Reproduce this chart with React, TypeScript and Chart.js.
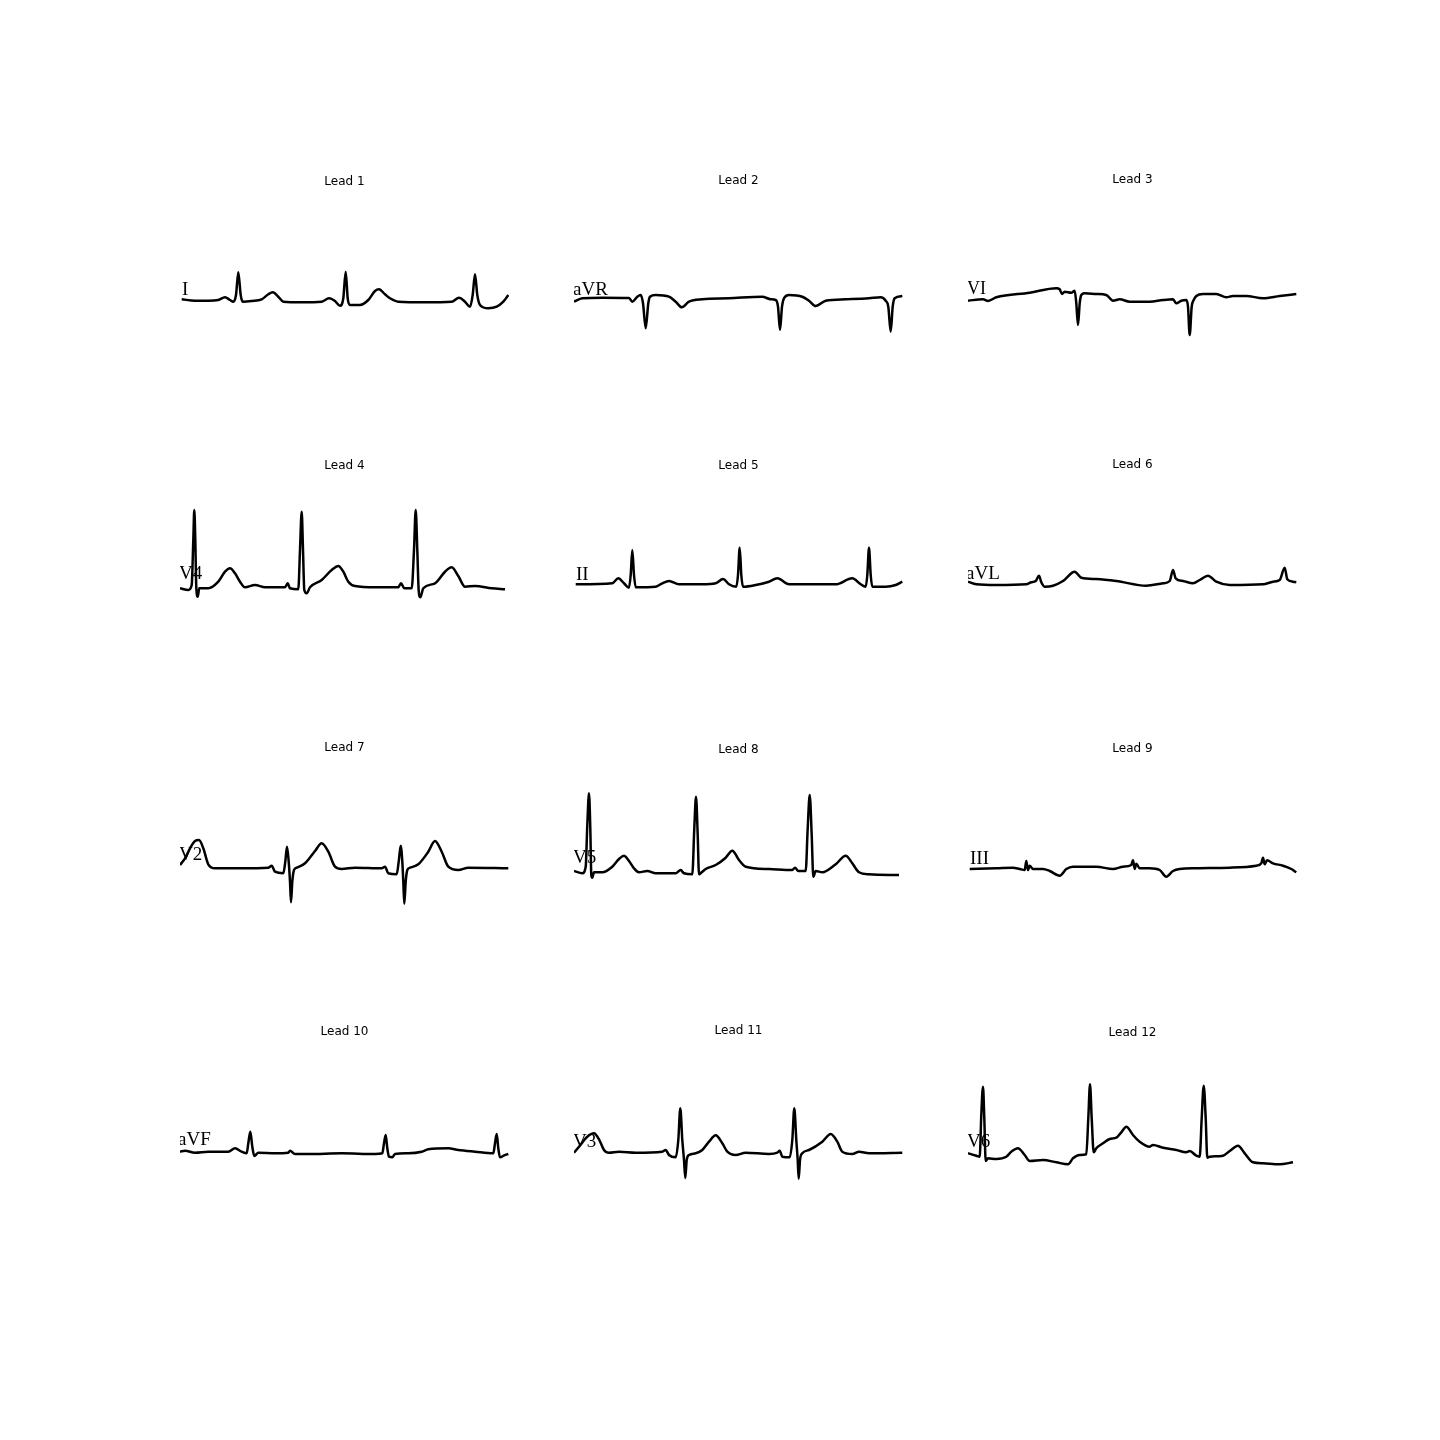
import { useEffect, useRef } from "react";
import { Chart, registerables } from "chart.js";

Chart.register(...registerables);

// ---------- data (x: sample position along strip, y: amplitude) ----------
const leadTitles = ["Lead 1", "Lead 2", "Lead 3", "Lead 4", "Lead 5", "Lead 6", "Lead 7", "Lead 8", "Lead 9", "Lead 10", "Lead 11", "Lead 12"];
const leadNames = ["I", "aVR", "VI", "V4", "II", "aVL", "V2", "V5", "III", "aVF", "V3", "V6"];

const lead1: [number, number][] = [
  [1.7, 0.7], [15, -0.7], [28.3, -0.7], [38.3, 0], [45, 2.7], [50, 0], [53.3, -1.7], [56, 5], [58.3, 27.7], [60.7, 5], [62.7, -1.7],
  [71.7, -1], [81.7, 0.7], [88.3, 5.7], [92.7, 7.7], [98.3, 3.3], [103.3, -1.7], [121.7, -2.3], [141.7, -1.7], [149, 1.7], [155, -1],
  [160, -5.7], [163.3, 1.7], [165.7, 28.3], [167.7, 1.7], [170, -5], [180, -5], [188.3, 0], [195, 9], [199, 10.7], [205, 5.7], [210, 1.7],
  [218.3, -1.7], [245, -2.3], [271.7, -1.7], [279, 2.3], [285, -1.7], [290, -6.7], [292.7, 5], [295, 25.7], [297.3, 5], [300, -5],
  [308.3, -8.3], [316.7, -6.7], [323.3, -1.7], [328.3, 5],
];
const lead2: [number, number][] = [
  [0, -3.7], [8.3, -0.3], [28.3, 0.3], [55, 0], [58.3, -3.7], [63.3, 1.3], [66.7, 3], [69, -5.3], [71.7, -30.3], [74.3, -5.3], [76, 1.3],
  [81.7, 3], [95, 1.3], [101.7, -3.7], [107.7, -9.3], [115, -3.7], [128.3, -1.3], [155, -0.3], [188.3, 1.3], [196.7, -1.3], [201.7, -2],
  [204, -8.7], [206, -32], [208, -8.7], [210, -0.3], [215, 3], [228.3, 1.3], [235, -2.7], [241.7, -8], [251.7, -2.7], [271.7, -1.3],
  [295, -0.3], [306.7, 0.7], [311.7, -2.7], [314.3, -8.7], [316.7, -33.7], [318.7, -8.7], [320.7, -0.3], [328.3, 2],
];
const lead3: [number, number][] = [
  [0, -0.7], [15, 0.7], [20, -1], [28.3, 2.7], [61.7, 7.3], [88.3, 11.7], [91.7, 10.7], [94, 6], [96.7, 8.3], [103.3, 7.3], [106.7, 9.3],
  [108.3, -3.3], [110, -25], [111.7, -3.3], [113.3, 5], [116.7, 6.7], [128.3, 6], [138.3, 5], [145, -0.7], [151.7, 0.7], [161.7, -1.7],
  [181.7, -1.7], [195, 0], [205, 0.7], [208.3, -3.3], [213.3, -0.7], [218.3, 0], [220, -6.7], [221.7, -35], [223.7, -6.7], [225.7, 0],
  [228.3, 4], [235, 6], [248.3, 6], [258.3, 2.7], [265, 4], [278.3, 4], [295, 1.7], [311.7, 4], [328.3, 6],
];
const lead4: [number, number][] = [
  [0, -1.3], [8.3, -3], [11.7, 2], [13.3, 47], [14.3, 77], [15.3, 47], [16.3, -0.3], [17.7, -9.7], [19.3, -1.3], [28.3, -1.3], [38.3, 5.3],
  [45, 15.3], [50, 18.7], [55, 13.7], [60, 5.3], [65, -0.3], [75, 2], [85, -0.3], [105, -0.3], [107.7, 3.7], [110, -1.3], [118.3, -2.3],
  [120, 37], [121.7, 75.3], [123, 37], [124.3, -3], [126.7, -6.3], [130, -0.3], [141.7, 7], [151.7, 17], [158.3, 21], [163.3, 15.3],
  [168.3, 5.3], [175, 1], [195, -0.3], [218.3, -0.3], [221, 3.7], [224.3, -1.3], [231.7, -1.3], [234, 37], [235.7, 77], [237.3, 37],
  [238.7, -3.7], [240.3, -10.3], [243.3, -1.3], [255, 3.7], [265, 15.3], [271.7, 19.7], [278.3, 11], [285, 0.3], [295, 1], [311.7, -1.3],
  [325, -2.3],
];
const lead5: [number, number][] = [
  [1.7, -0.3], [38.3, 0.7], [44.3, 5.7], [50, 0.7], [55, -3.7], [56.7, 9], [58.3, 34], [60, 9], [61.7, -3.3], [81.7, -2.7], [88.3, 0.7],
  [95, 3], [105, -0.3], [128.3, -0.3], [141.7, 0.7], [149, 5], [155, -0.3], [162.3, -2.7], [164, 9], [165.7, 36.3], [167.3, 9], [169, -2.7],
  [181.7, -1], [195, 2.3], [203.3, 5.7], [215, -0.3], [261.7, -0.3], [278.3, 5.7], [286.7, -0.3], [291.7, -2.7], [293.3, 9], [295, 36.3],
  [296.7, 9], [298.3, -2.7], [311.7, -2.7], [321.7, -1], [328.3, 2.3],
];
const lead6: [number, number][] = [
  [0, 1.3], [8.3, -1.3], [28.3, -2], [58.3, -1.3], [63.3, 0.7], [67.7, 2], [71, 7.3], [73.3, 0.7], [76.7, -3.7], [85, -2.7], [95, 2],
  [106.7, 11.3], [113.3, 5.3], [128.3, 4], [148.3, 2], [178.3, -2.7], [195, -0.3], [201.7, 2], [205, 13], [207.7, 4.7], [215, 2],
  [225, -0.3], [231.7, 3], [240, 7.3], [248.3, 1.3], [261.7, -2], [295, -1.3], [305, 1.3], [311.7, 3], [316.7, 15.3], [319.3, 3.7],
  [325, 1.3], [328.3, 0.7],
];
const lead7: [number, number][] = [
  [0, 3], [5, 9.7], [10, 19.7], [15, 27], [19, 28], [23.3, 19.7], [28.3, 3.7], [35, -0.3], [61.7, -0.3], [88.3, 0.3], [91.7, 2.3],
  [95, -3.7], [103.3, -5.3], [105.3, 6.3], [107, 21.3], [108.7, 6.3], [110, -13.7], [111, -34.3], [112.3, -13.7], [114, -2], [116.7, 0.3],
  [125, 4.7], [135, 17], [141.7, 24.7], [148.3, 16.3], [155, 1.3], [161.7, -1], [175, 0.3], [201.7, -0.3], [205, 1.3], [208.3, -5.3],
  [216.7, -6.3], [218.7, 6.3], [220.7, 22.3], [222.3, 6.3], [223.3, -13.7], [224.3, -35.7], [225.7, -13.7], [227.3, -2], [230, 0.3],
  [238.3, 3.7], [248.3, 16.3], [255, 27], [261.7, 16.3], [268.3, 1.3], [278.3, -2], [288.3, 0.3], [328.3, -0.3],
];
const lead8: [number, number][] = [
  [0, 1], [8.3, -1.3], [11.7, 5.3], [13.3, 47], [15, 78.7], [16.3, 43.7], [17.3, -3], [18.3, -5.7], [20, -0.3], [28.3, -0.3], [38.3, 5.3],
  [45, 13], [50, 16.3], [55, 11], [60, 3.7], [65, -0.3], [73.3, 1], [81.7, -1.3], [101.7, -1.3], [106.7, 2], [110, -1.3], [118.3, -2.3],
  [120.3, 43.7], [122, 75.3], [123.7, 37], [125, -2.3], [127.7, -0.3], [131.7, 3], [141.7, 7], [151.7, 14.3], [158.3, 21.3], [165, 12],
  [171.7, 5.3], [195, 3], [218.3, 2], [221, 4.3], [224.3, 1], [231.7, 1], [233.7, 43.7], [235.7, 77], [237.7, 37], [239.3, -4.7],
  [241.7, 1], [248.3, -0.3], [261.7, 7.7], [271.7, 16.3], [278.3, 8.7], [285, -0.3], [295, -2.3], [325, -3],
];
const lead9: [number, number][] = [
  [1.7, -1], [28.3, -0.3], [45, 0.3], [51.7, -1], [56.7, -2], [58.3, 7], [60, -2], [61.7, 2.3], [65, -1], [75, -1], [81.7, -3],
  [91.7, -7.7], [98.3, -1], [105, 1.3], [128.3, 1.3], [145, -1], [155, 1.3], [163.3, 3], [165, 7.7], [166.7, -1], [168.3, 4.3],
  [171.7, -0.3], [181.7, -0.3], [191.7, -2], [198.3, -8.7], [205, -3], [211.7, -1], [228.3, -0.3], [261.7, 0.3], [288.3, 2.3],
  [293.3, 4.7], [295, 10.3], [296.7, 3.7], [299, 7.7], [305, 4.7], [315, 2.3], [323.3, -1], [328.3, -4.3],
];
const lead10: [number, number][] = [
  [0, 0.3], [5, 1.3], [15, -0.7], [28.3, 0.3], [48.3, 0.3], [55, 3.7], [61.7, 0.3], [66.7, -1.3], [68.3, 8.7], [70.3, 20.3], [72.3, 5.3],
  [74.3, -4], [78.3, -0.7], [95, -1.3], [108.3, -0.7], [110, 1.3], [115, -2], [128.3, -2], [161.7, -1.3], [195, -2], [202.3, -1.3],
  [204, 8.7], [205.7, 17], [207.3, 3.7], [209, -4.7], [212.3, -5.3], [215, -2], [228.3, -1.3], [241.7, 0.3], [248.3, 2.7], [268.3, 3.7],
  [278.3, 2], [295, 0.3], [313.3, -1.3], [315, 8.7], [316.7, 18], [318.3, 3.7], [320, -5.3], [324.3, -3.3], [328.3, -2],
];
const lead11: [number, number][] = [
  [0, -0.7], [5, 5.3], [13.3, 15.3], [20, 18.7], [25, 12.7], [30, 2], [35, -0.7], [45, 0.3], [61.7, -0.7], [88.3, 0.3], [91.7, 2],
  [95, -3], [101.7, -5.3], [104.3, 12], [106.3, 43.7], [108.3, 12], [110, -8], [111.3, -26], [112.7, -8], [115, -3], [121.7, -1.3],
  [128.3, 2], [135, 10.3], [141.7, 16.7], [148.3, 8.7], [153.3, 0.3], [161.7, -3], [171.7, -0.7], [195, -2], [203.3, -0.7], [205.7, 1.3],
  [208.3, -4.7], [215.7, -5.3], [218.3, 12], [220.3, 43.7], [222.3, 12], [223.7, -8], [224.7, -26.7], [226, -8], [228.3, -1.3], [235, 2],
  [248.3, 10.3], [256.7, 18], [263.3, 10.3], [268.3, 0.3], [278.3, -2], [285, 0.3], [295, -1.3], [328.3, -0.7],
];
const lead12: [number, number][] = [
  [0, 4.7], [8.3, 2.3], [11.7, 1.3], [13.3, 43], [15, 71.3], [16.3, 39.7], [17.7, -3], [20, -0.3], [28.3, -1], [38.3, 1.3], [43.3, 6.3],
  [50, 9.7], [56.7, 3], [61.7, -3], [75, -2], [88.3, -4.3], [100, -6.3], [105, -0.3], [111.7, 3], [118.3, 3.7], [120.3, 39.7], [122, 73.7],
  [123.7, 39.7], [125.7, 5.7], [128.3, 9.7], [135, 14.7], [141.7, 19], [148.3, 20.3], [153.3, 25.7], [158.3, 31.3], [165, 23],
  [171.7, 16.3], [181.7, 11.3], [185, 13], [195, 10.3], [208.3, 8], [218.3, 5.7], [221.7, 7], [228.3, 2.3], [231.7, 1.3], [233.7, 39.7],
  [235.7, 72.3], [237.7, 39.7], [239.3, 0.3], [241.7, 1.3], [255, 2.3], [261.7, 7], [270, 12.3], [276.7, 4.7], [285, -4.3], [295, -5.3],
  [311.7, -6.3], [325, -4.3],
];

const leadSeries = [lead1, lead2, lead3, lead4, lead5, lead6, lead7, lead8, lead9, lead10, lead11, lead12];

// ---------- layout ----------
const COL_LEFT = [180, 574, 968];
const ROW_TOP = [143, 432, 721, 1010];
const PANEL_W = 329;
const PANEL_H = 280;
const BASELINE_Y = [300, 298, 300, 587, 584, 583, 868, 872, 868, 1152, 1152, 1158];
const TITLE_Y = [180.5, 179.5, 178.5, 465, 465, 464, 747, 749, 748, 1031, 1030, 1032];
const LABEL_POS: [number, number, number][] = [
  [182, 295, 19], [573, 295, 19], [967, 293.5, 18], [179, 578.5, 19], [576, 580, 19], [966, 578.5, 19],
  [179, 860, 19], [573, 862.5, 19], [970, 863.5, 19], [178, 1145, 19], [573, 1146.5, 19], [967, 1146.5, 19],
];

function Panel({ idx }: { idx: number }) {
  const ref = useRef<HTMLCanvasElement | null>(null);
  const col = idx % 3;
  const row = Math.floor(idx / 3);
  const left = COL_LEFT[col];
  const top = ROW_TOP[row];

  useEffect(() => {
    if (!ref.current) return;
    const B = BASELINE_Y[idx];
    const textPlugin = {
      id: "leadText" + idx,
      beforeDatasetsDraw(chart: any) {
        const ctx = chart.ctx;
        const [lx, ly, fs] = LABEL_POS[idx];
        ctx.save();
        ctx.fillStyle = "#000";
        ctx.font = `${fs}px "Liberation Serif", "Times New Roman", serif`;
        ctx.textBaseline = "alphabetic";
        ctx.textAlign = "left";
        ctx.fillText(leadNames[idx], lx - left, ly - top);
        ctx.restore();
      },
      afterDraw(chart: any) {
        const ctx = chart.ctx;
        ctx.save();
        ctx.fillStyle = "#000";
        ctx.font = `12px "DejaVu Sans", sans-serif`;
        ctx.textAlign = "center";
        ctx.textBaseline = "alphabetic";
        ctx.fillText(leadTitles[idx], PANEL_W / 2, TITLE_Y[idx] + 4.4 - top);
        ctx.restore();
      },
    };
    const chart = new Chart(ref.current, {
      type: "line",
      data: {
        datasets: [
          {
            data: leadSeries[idx].map(([x, y]) => ({ x, y })),
            borderColor: "#000",
            borderWidth: 2.5,
            pointRadius: 0,
            cubicInterpolationMode: "monotone",
            fill: false,
          },
        ],
      },
      options: {
        animation: false,
        responsive: false,
        events: [],
        layout: { padding: 0 },
        plugins: {
          legend: { display: false },
          tooltip: { enabled: false },
          title: { display: false },
        },
        scales: {
          x: { type: "linear", display: false, min: 0, max: PANEL_W },
          y: { type: "linear", display: false, min: B - (top + PANEL_H), max: B - top },
        },
      },
      plugins: [textPlugin],
    } as any);
    return () => chart.destroy();
  }, [idx]);

  return (
    <canvas
      ref={ref}
      width={PANEL_W}
      height={PANEL_H}
      style={{ position: "absolute", left, top, width: PANEL_W, height: PANEL_H }}
    />
  );
}

export default function App() {
  return (
    <div style={{ position: "absolute", left: 0, top: 0, width: 1440, height: 1440, background: "#fff" }}>
      {leadSeries.map((_, i) => (
        <Panel key={i} idx={i} />
      ))}
    </div>
  );
}
